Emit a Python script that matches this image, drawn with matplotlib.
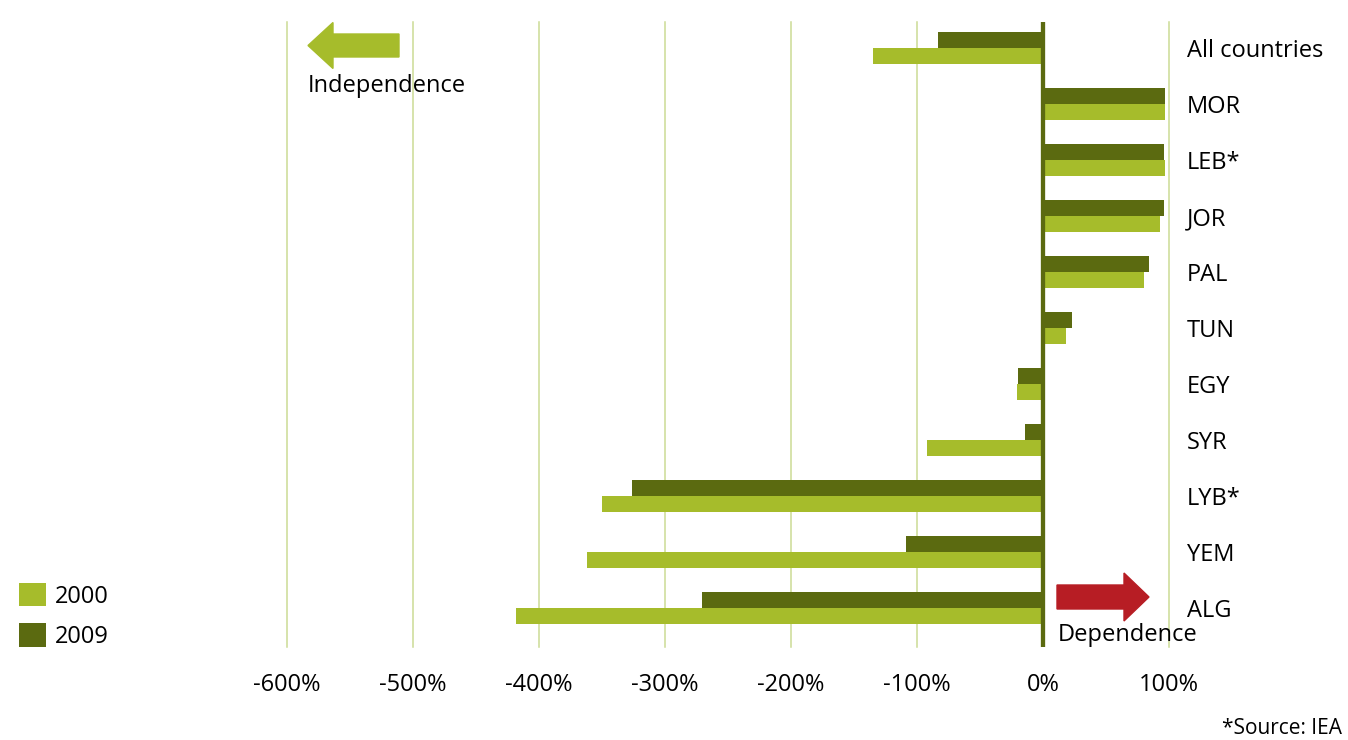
"""Energy import dependence chart: 2000 vs 2009, by country."""

import matplotlib

matplotlib.use("Agg")

import matplotlib.patches as mpatches
import matplotlib.pyplot as plt
import numpy as np

LIGHT = "#A6BC2B"
DARK = "#5B6A10"
GRID = "#CCDB95"
RED = "#B71D24"
FS = 17

plt.rcParams["font.family"] = ["Open Sans", "DejaVu Sans"]

countries = ["All countries", "MOR", "LEB*", "JOR", "PAL", "TUN", "EGY", "SYR", "LYB*", "YEM", "ALG"]
values_2000 = [-135, 97, 97, 93, 80, 18, -21, -92, -350, -362, -418]
values_2009 = [-83, 97, 96, 96, 84, 23, -20, -14, -326, -109, -271]
x_ticks = [-600, -500, -400, -300, -200, -100, 0, 100]
x_labels = ["-600%", "-500%", "-400%", "-300%", "-200%", "-100%", "0%", "100%"]

fig = plt.figure(figsize=(13.48, 7.4), dpi=100)
ax = fig.add_axes([287 / 1348, 1 - 647 / 740, 882 / 1348, 625 / 740])

y = np.arange(len(countries))[::-1]
h = 0.286
ax.barh(y - h / 2, values_2000, height=h, color=LIGHT, label="2000", zorder=2)
ax.barh(y + h / 2, values_2009, height=h, color=DARK, label="2009", zorder=2)

for t in x_ticks:
    if t != 0:
        ax.axvline(t, color=GRID, linewidth=1.1, zorder=1, clip_on=False)
ax.axvline(0, color=DARK, linewidth=3.1, zorder=3)

ax.set_xlim(-600, 100)
ax.set_ylim(-0.70, 10.47)
ax.set_xticks(x_ticks)
ax.set_xticklabels(x_labels, fontsize=FS)
ax.tick_params(axis="x", length=0, pad=19)

ax.yaxis.tick_right()
ax.set_yticks(y)
ax.set_yticklabels(countries, fontsize=FS)
ax.tick_params(axis="y", length=0, pad=13)

for s in ax.spines.values():
    s.set_visible(False)

# direction arrows (inch coordinates)
fig.patches.append(mpatches.FancyArrow(
    3.99, 6.945, -0.91, 0, width=0.23, head_width=0.46, head_length=0.25,
    length_includes_head=True, color=LIGHT, transform=fig.dpi_scale_trans))
fig.patches.append(mpatches.FancyArrow(
    10.57, 1.43, 0.92, 0, width=0.24, head_width=0.48, head_length=0.25,
    length_includes_head=True, color=RED, transform=fig.dpi_scale_trans))

fig.text(308 / 1348, 1 - 86 / 740, "Independence", fontsize=FS, va="center", ha="left")
fig.text(1058 / 1348, 1 - 635 / 740, "Dependence", fontsize=FS, va="center", ha="left")
fig.text(1342 / 1348, 1 - 729 / 740, "*Source: IEA", fontsize=15, va="center", ha="right")

ax.legend(
    loc="upper left", bbox_to_anchor=(19 / 1348, 1 - 583 / 740), bbox_transform=fig.transFigure,
    frameon=False, fontsize=FS, handlelength=1.15, handleheight=1.15,
    labelspacing=0.62, handletextpad=0.35, borderpad=0, borderaxespad=0,
)

fig.savefig("out.png", dpi=100)
